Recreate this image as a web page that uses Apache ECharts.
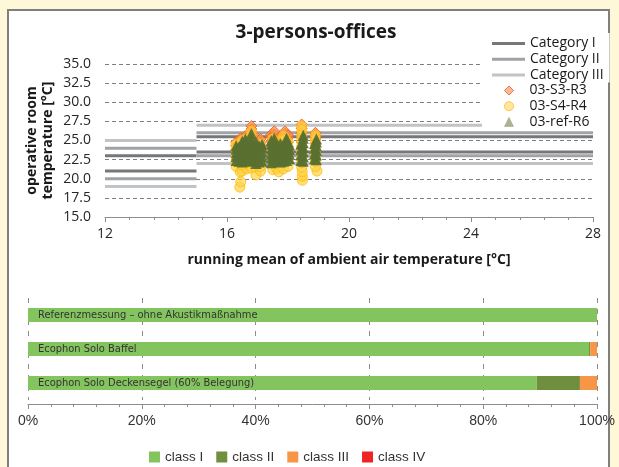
<!DOCTYPE html>
<html>
<head>
<meta charset="utf-8">
<script src="https://cdn.jsdelivr.net/npm/echarts@6/dist/echarts.min.js"></script>
<style>
  html, body { margin: 0; padding: 0; width: 619px; height: 467px; overflow: hidden; background: #fff8d8; }
  #panel { position: absolute; left: 7px; top: 9px; width: 603px; height: 470px; background: #ffffff; border: 2px solid #7f7f7f; box-sizing: border-box; }
  #chart { position: absolute; left: 0; top: 0; width: 619px; height: 467px; }
</style>
</head>
<body>
<div id="panel"></div>
<div id="chart"></div>
<script>
// ---------- top chart data ----------
const titleText = '3-persons-offices';
const bandXLeft = [12, 15];
const bandXRight = [15, 28];
// [left segment (<15), right segment (>=15)]
const catI_lower = [21, 23.5];
const catI_upper = [23, 25.5];
const catII_lower = [20, 23];
const catII_upper = [24, 26];
const catIII_lower = [19, 22];
const catIII_upper = [25, 27];

// 03-S3-R3 (orange diamonds)
const s3r3 = [
  [16.3, 23.8], [16.3, 24.3], [16.3, 24.8],
  [16.45, 24.2], [16.45, 24.8], [16.45, 25.3],
  [16.6, 24.6], [16.6, 25.2], [16.6, 25.6],
  [16.8, 24.8], [16.8, 25.4], [16.8, 26.0], [16.8, 26.5], [16.8, 26.9],
  [16.95, 23.8], [16.95, 24.4], [16.95, 25.0], [16.95, 25.5],
  [17.1, 23.5], [17.1, 24.1], [17.1, 24.7], [17.1, 25.2],
  [17.45, 24.3], [17.45, 24.9], [17.45, 25.5], [17.45, 25.8],
  [17.55, 24.6], [17.55, 25.2], [17.55, 25.8], [17.55, 26.2],
  [17.75, 23.8], [17.75, 24.4], [17.75, 25.0], [17.75, 25.4],
  [17.9, 24.7], [17.9, 25.3], [17.9, 25.9], [17.9, 26.2],
  [18.0, 24.2], [18.0, 24.8], [18.0, 25.4], [18.0, 25.7],
  [18.45, 24.8], [18.45, 25.4], [18.45, 26.0], [18.45, 26.6], [18.45, 27.1],
  [18.9, 24.6], [18.9, 25.2], [18.9, 25.7], [18.9, 26.0]
];
// 03-S4-R4 (yellow circles)
const s4r4 = [
  [16.3, 21.6], [16.3, 22.2], [16.3, 23.0], [16.3, 23.8], [16.3, 24.5],
  [16.42, 18.9], [16.45, 19.6], [16.43, 20.9],
  [16.5, 21.0], [16.5, 21.8], [16.5, 22.6], [16.5, 23.4], [16.5, 24.2], [16.5, 25.0],
  [16.65, 21.3], [16.65, 22.0], [16.65, 22.8], [16.65, 23.6], [16.65, 24.4], [16.65, 25.2],
  [16.8, 21.4], [16.8, 22.1], [16.8, 23.0], [16.8, 23.8], [16.8, 24.6], [16.8, 25.4], [16.8, 26.2],
  [16.95, 20.5], [16.92, 21.5],
  [17.1, 21.0], [17.1, 21.6], [17.1, 22.3], [17.1, 23.0], [17.1, 23.7], [17.1, 24.5],
  [17.5, 21.2], [17.5, 22.0], [17.5, 22.8], [17.5, 23.6], [17.5, 24.4], [17.5, 25.2],
  [17.63, 21.3], [17.7, 20.9],
  [17.85, 21.3], [17.9, 22.1], [17.85, 22.6], [17.85, 23.4], [17.85, 24.2], [17.85, 25.0], [17.85, 25.6],
  [18.0, 21.6], [18.0, 22.4], [18.0, 23.2], [18.0, 24.0], [18.0, 24.8],
  [18.47, 19.8], [18.47, 20.3], [18.47, 20.9], [18.45, 21.5], [18.45, 22.1], [18.45, 22.8],
  [18.45, 23.5], [18.45, 24.2], [18.45, 24.9], [18.45, 25.6], [18.45, 26.3], [18.45, 26.9],
  [18.95, 21.0], [18.9, 21.6], [18.9, 22.3], [18.9, 23.0], [18.9, 23.7], [18.9, 24.4], [18.9, 25.1], [18.9, 25.7]
];
// 03-ref-R6 (green triangles)
const refR6 = [
  [16.3, 22.4], [16.3, 22.9], [16.3, 23.4], [16.3, 23.9], [16.3, 24.3],
  [16.4, 22.3], [16.4, 23.0], [16.4, 23.6], [16.4, 24.2],
  [16.5, 22.2], [16.5, 22.7], [16.5, 23.3], [16.5, 23.8], [16.5, 24.4], [16.5, 24.9],
  [16.6, 22.5], [16.6, 23.0], [16.6, 23.6], [16.6, 24.2], [16.6, 24.8], [16.6, 25.2],
  [16.7, 22.4], [16.7, 23.1], [16.7, 23.8], [16.7, 24.5],
  [16.8, 22.3], [16.8, 22.9], [16.8, 23.5], [16.8, 24.1], [16.8, 24.7], [16.8, 25.3], [16.8, 25.9],
  [16.95, 22.0], [16.95, 22.6], [16.95, 23.2], [16.95, 23.8], [16.95, 24.4], [16.95, 24.8],
  [17.05, 22.2], [17.05, 22.9], [17.05, 23.6], [17.05, 24.3],
  [17.15, 22.3], [17.15, 22.9], [17.15, 23.5], [17.15, 24.1], [17.15, 24.5],
  [17.45, 22.1], [17.45, 22.7], [17.45, 23.3], [17.45, 23.9], [17.45, 24.5], [17.45, 25.0],
  [17.55, 22.4], [17.55, 23.0], [17.55, 23.6], [17.55, 24.2], [17.55, 24.8], [17.55, 25.3],
  [17.65, 22.3], [17.65, 23.0], [17.65, 23.7], [17.65, 24.4],
  [17.75, 22.2], [17.75, 22.8], [17.75, 23.4], [17.75, 24.0], [17.75, 24.6],
  [17.85, 22.3], [17.85, 23.0], [17.85, 23.7], [17.85, 24.4],
  [17.95, 22.4], [17.95, 23.0], [17.95, 23.6], [17.95, 24.2], [17.95, 24.8], [17.95, 25.3],
  [18.05, 22.6], [18.05, 23.2], [18.05, 23.8], [18.05, 24.4],
  [18.42, 22.4], [18.42, 23.1], [18.42, 23.8], [18.42, 24.5],
  [18.5, 22.3], [18.5, 22.9], [18.5, 23.5], [18.5, 24.1], [18.5, 24.7], [18.5, 25.3], [18.5, 25.7],
  [18.87, 22.6], [18.87, 23.3], [18.87, 24.0], [18.87, 24.6],
  [18.93, 22.5], [18.93, 23.1], [18.93, 23.7], [18.93, 24.3], [18.93, 24.8], [18.93, 25.2]
];

// ---------- bottom chart data ----------
const barCategories = [
  'Referenzmessung – ohne Akustikmaßnahme',
  'Ecophon Solo Baffel',
  'Ecophon Solo Deckensegel (60% Belegung)'
];
const classI = [100, 98.6, 89.4];
const classII = [0, 0.2, 7.6];
const classIII = [0, 1.2, 3.0];
const classIV = [0, 0, 0];

// ---------- build ----------
function bandData(lower, upper) {
  return [
    [bandXLeft[0], lower[0]], [bandXLeft[1], lower[0]], [bandXLeft[1], '-'],
    [bandXLeft[0], upper[0]], [bandXLeft[1], upper[0]], [bandXLeft[1], '-'],
    [bandXRight[0], lower[1]], [bandXRight[1], lower[1]], [bandXRight[1], '-'],
    [bandXRight[0], upper[1]], [bandXRight[1], upper[1]]
  ];
}
function bandSeries(name, lower, upper, color) {
  return {
    name: name, type: 'line', xAxisIndex: 0, yAxisIndex: 0,
    data: bandData(lower, upper), symbol: 'none', connectNulls: false,
    lineStyle: { color: color, width: 3, cap: 'butt' }, itemStyle: { color: color },
    silent: true, animation: false, z: 2
  };
}

const F = "'Open Sans', 'Noto Sans', sans-serif";
const chart = echarts.init(document.getElementById('chart'), null, { renderer: 'canvas' });
chart.setOption({
  animation: false,
  backgroundColor: 'transparent',
  title: {
    text: titleText, left: 311, top: 18, textAlign: 'center',
    textStyle: { fontFamily: F, fontSize: 19, fontWeight: 'bold', color: '#1a1a1a' }
  },
  grid: [
    { left: 105, right: 26, top: 64, bottom: 250 },
    { left: 28, right: 22, top: 298, height: 102 }
  ],
  xAxis: [
    {
      type: 'value', gridIndex: 0, min: 12, max: 28, interval: 4,
      name: 'running mean of ambient air temperature [°C]', nameLocation: 'middle', nameGap: 36,
      nameMoveOverlap: false,
      nameTextStyle: { fontFamily: F, fontSize: 14, fontWeight: 'bold', color: '#1a1a1a' },
      axisLine: { show: true, onZero: false, lineStyle: { color: '#8c8c8c', width: 1 } },
      axisTick: { show: true, length: 5, lineStyle: { color: '#8c8c8c' } },
      minorTick: { show: true, splitNumber: 5, length: 3, lineStyle: { color: '#8c8c8c' } },
      axisLabel: { margin: 10, fontFamily: F, fontSize: 14, color: '#262626' },
      splitLine: { show: false }
    },
    {
      type: 'value', gridIndex: 1, min: 0, max: 100, interval: 20, offset: 4,
      axisLine: { show: true, lineStyle: { color: '#8c8c8c', width: 1 } },
      axisTick: { show: true, length: 5, lineStyle: { color: '#8c8c8c' } },
      minorTick: { show: true, splitNumber: 5, length: 3, lineStyle: { color: '#8c8c8c' } },
      axisLabel: { margin: 10, fontFamily: "'Liberation Sans', Arial, sans-serif", fontSize: 14, color: '#333', formatter: '{value}%' },
      splitLine: { show: true, lineStyle: { color: '#8c8c8c', type: [5, 6], width: 1 } }
    }
  ],
  yAxis: [
    {
      type: 'value', gridIndex: 0, min: 15, max: 35, interval: 2.5,
      name: 'operative room\ntemperature [°C]', nameLocation: 'middle', nameGap: 49, nameRotate: 90,
      nameMoveOverlap: false,
      nameTextStyle: { fontFamily: F, fontSize: 14, fontWeight: 'bold', color: '#1a1a1a', lineHeight: 16 },
      axisLine: { show: false }, axisTick: { show: false },
      axisLabel: { margin: 14, fontFamily: F, fontSize: 14, color: '#262626', formatter: v => v.toFixed(1) },
      splitLine: { show: true, lineStyle: { color: '#7f7f7f', type: [4, 3], width: 1 } }
    },
    {
      type: 'category', gridIndex: 1, data: barCategories, inverse: true,
      axisLine: { show: false }, axisTick: { show: false }, axisLabel: { show: false },
      splitLine: { show: false }
    }
  ],
  legend: [
    {
      orient: 'vertical', left: 482, top: 33, padding: [3, 6, 0, 10], itemGap: 0.7,
      backgroundColor: '#ffffff', itemWidth: 33, itemHeight: 3, icon: 'rect', z: 10,
      textStyle: { fontFamily: F, fontSize: 14, color: '#1a1a1a', lineHeight: 15 },
      data: ['Category I', 'Category II', 'Category III'],
      selectedMode: false
    },
    {
      orient: 'vertical', left: 482, top: 83, padding: [0, 6, 1, 22], itemGap: 0.7,
      backgroundColor: '#ffffff', itemWidth: 9, itemHeight: 9, z: 10,
      formatter: name => '{p|}' + name,
      textStyle: { fontFamily: F, fontSize: 14, color: '#1a1a1a', lineHeight: 15, rich: { p: { width: 11 } } },
      data: [
        { name: '03-S3-R3', icon: 'diamond', itemStyle: { color: '#f9a878', borderColor: '#e8602c', borderWidth: 1 } },
        { name: '03-S4-R4', icon: 'circle', itemStyle: { color: '#ffe08a', borderColor: '#ffbf1a', borderWidth: 1 } },
        { name: '03-ref-R6', icon: 'triangle', itemStyle: { color: '#a6b08a', borderColor: '#8e9a70', borderWidth: 0.5 } }
      ],
      selectedMode: false
    },
    {
      orient: 'horizontal', left: 144, top: 445, itemGap: 13, itemWidth: 11, itemHeight: 11,
      icon: 'rect',
      textStyle: { fontFamily: "'Liberation Sans', Arial, sans-serif", fontSize: 13.5, color: '#333' },
      data: ['class I', 'class II', 'class III', 'class IV'],
      selectedMode: false
    }
  ],
  series: [
    bandSeries('Category I', catI_lower, catI_upper, '#76777b'),
    bandSeries('Category II', catII_lower, catII_upper, '#a1a2a6'),
    bandSeries('Category III', catIII_lower, catIII_upper, '#c2c3c6'),
    {
      name: '03-S3-R3', type: 'scatter', xAxisIndex: 0, yAxisIndex: 0, data: s3r3,
      symbol: 'diamond', symbolSize: 11, z: 3,
      itemStyle: { color: '#f7924a', borderColor: '#ee5a20', borderWidth: 1 }
    },
    {
      name: '03-S4-R4', type: 'scatter', xAxisIndex: 0, yAxisIndex: 0, data: s4r4,
      symbol: 'circle', symbolSize: 10, z: 3,
      itemStyle: { color: 'rgba(255,210,70,0.85)', borderColor: '#ffbb00', borderWidth: 1 }
    },
    {
      name: '03-ref-R6', type: 'scatter', xAxisIndex: 0, yAxisIndex: 0, data: refR6,
      symbol: 'triangle', symbolSize: [11, 11], z: 3,
      itemStyle: { color: '#5a7031', opacity: 0.95 }
    },
    {
      name: 'class I', type: 'bar', xAxisIndex: 1, yAxisIndex: 1, stack: 'cls', data: classI,
      barWidth: 14, itemStyle: { color: '#84c45f' },
      label: {
        show: true, position: 'insideLeft', distance: 10, formatter: p => p.name,
        fontFamily: "'DejaVu Sans Condensed', 'Liberation Sans Narrow', sans-serif", fontSize: 11, color: '#333'
      }
    },
    { name: 'class II', type: 'bar', xAxisIndex: 1, yAxisIndex: 1, stack: 'cls', data: classII, barWidth: 14, itemStyle: { color: '#6f8f3e' } },
    { name: 'class III', type: 'bar', xAxisIndex: 1, yAxisIndex: 1, stack: 'cls', data: classIII, barWidth: 14, itemStyle: { color: '#f79646' } },
    { name: 'class IV', type: 'bar', xAxisIndex: 1, yAxisIndex: 1, stack: 'cls', data: classIV, barWidth: 14, itemStyle: { color: '#ee2424' } }
  ]
});
</script>
</body>
</html>
